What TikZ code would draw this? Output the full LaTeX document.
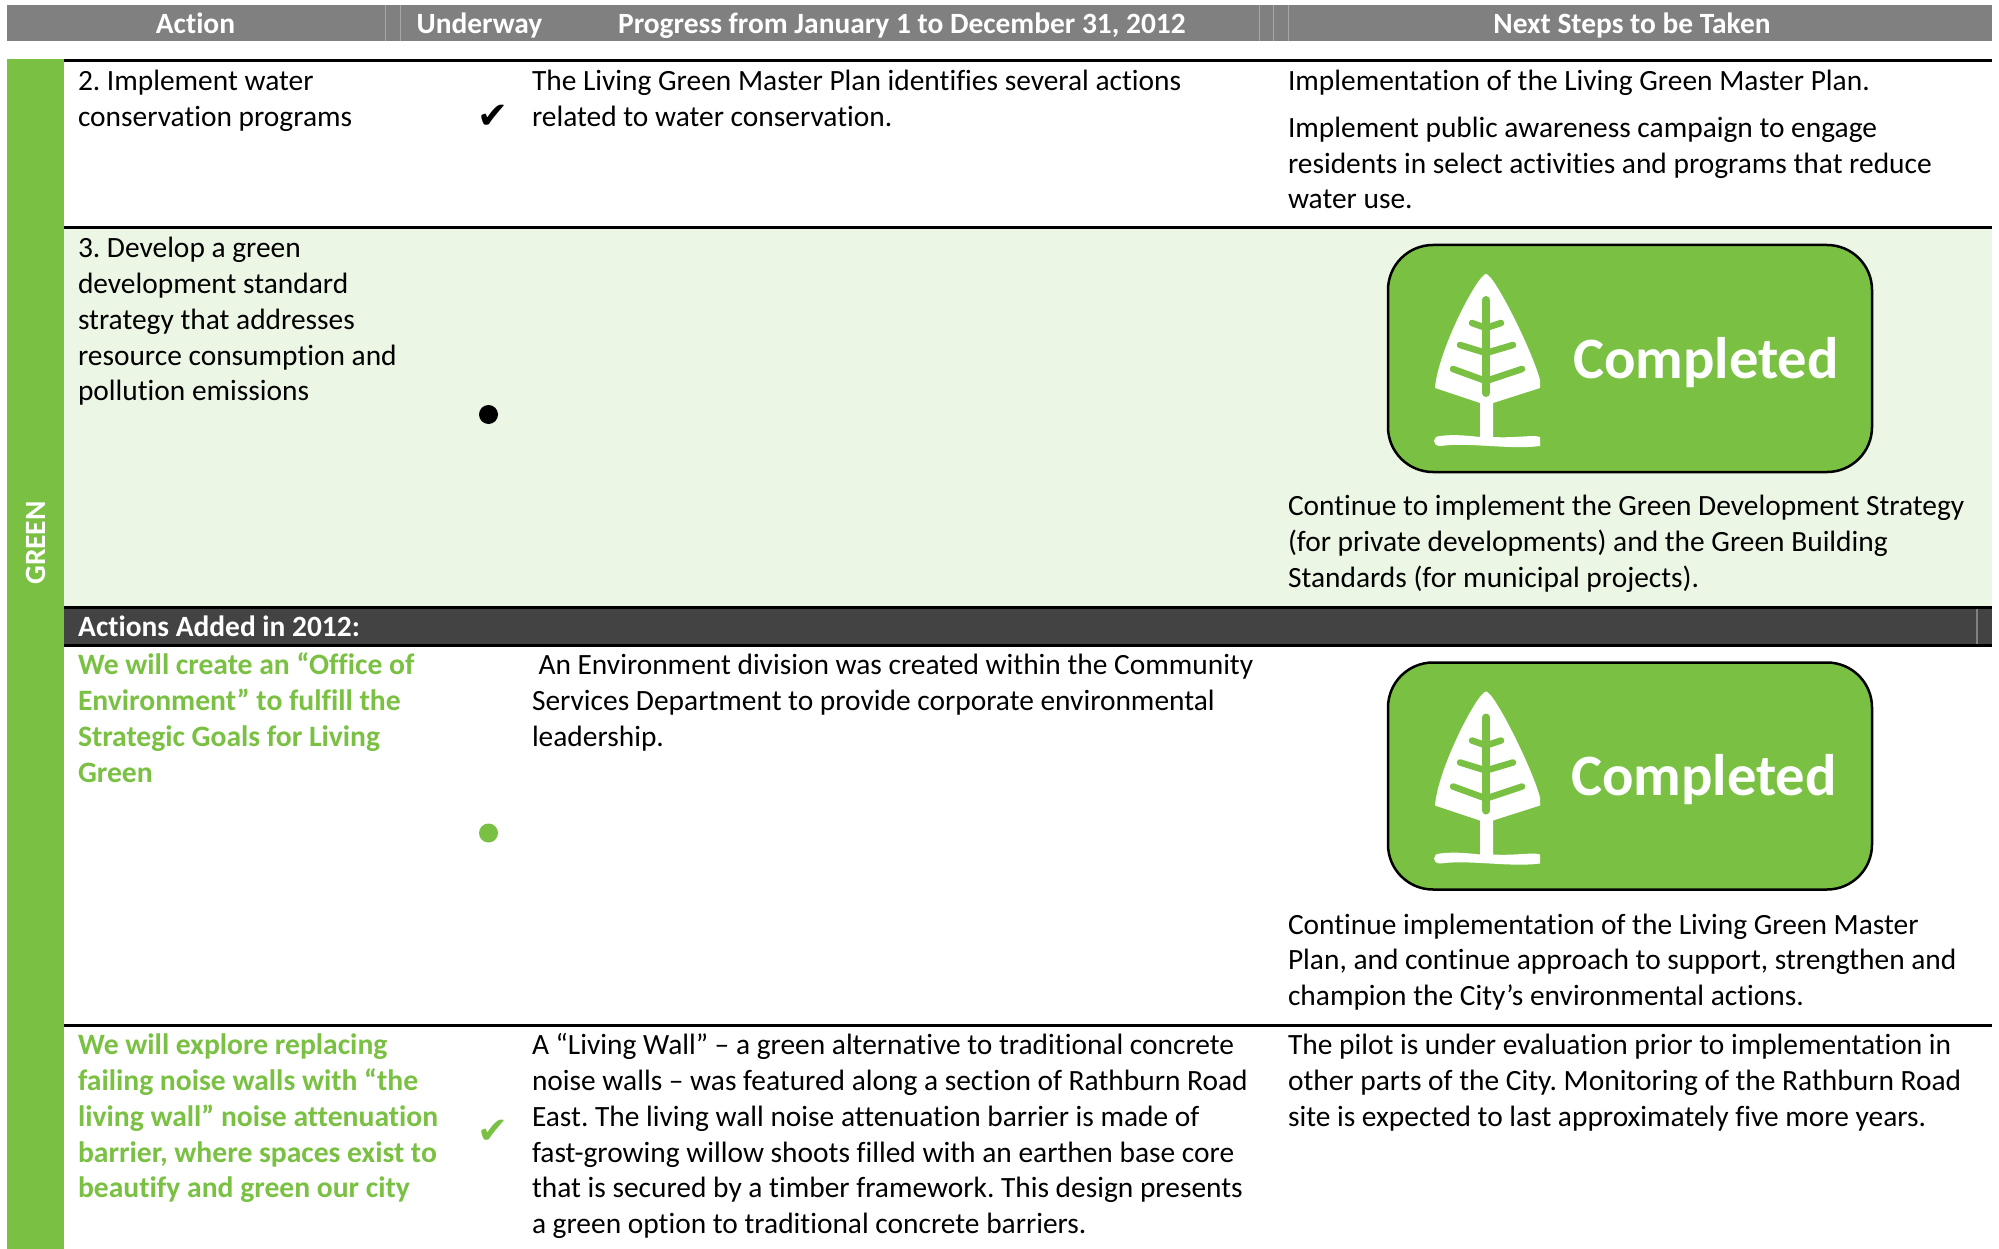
\documentclass[tikz,border=0pt]{standalone}
\usepackage{fontspec}
\setmainfont{Carlito}[Ligatures=NoCommon]
\newfontfamily\symfont{DejaVu Sans}
\definecolor{lggreen}{HTML}{7AC143}
\definecolor{lglight}{HTML}{EBF6E5}
\definecolor{lgdark}{HTML}{434343}
\definecolor{lggray}{HTML}{808080}
\newcommand{\bodyfont}{\fontsize{29.42}{35.9}\selectfont}
\newcommand{\boldfont}{\fontsize{29.62}{35.9}\selectfont\bfseries}
\newcommand{\headfont}{\fontsize{29.42}{35.9}\selectfont\bfseries}
% a paragraph placed by its first baseline
\newcommand{\para}[5][]{\node[para,#1] (#2) at (#3,#4-22) {\rule{0pt}{22pt}#5};}
\newcommand{\treeicon}[1]{%
  \begin{scope}[shift={(1360,#1)}]
    \fill[white] (126,54) .. controls (134,54) and (172,130) .. (180,160) -- (180,168) -- (133,183) -- (133,217)
      .. controls (150,218) and (165,216) .. (175,216) -- (180,217) -- (180,226)
      .. controls (150,230) and (110,222) .. (80,226) .. controls (72,226) and (72,216) .. (80,216)
      .. controls (95,214) and (110,216) .. (120,217) -- (120,183) -- (75,168)
      .. controls (78,130) and (118,54) .. (126,54) -- cycle;
    \draw[lggreen,line width=8pt,line cap=round,line join=round] (126,80) -- (126,173);
    \draw[lggreen,line width=6.5pt,line cap=round,line join=round] (112,103) -- (126,108) -- (141,103);
    \draw[lggreen,line width=6.5pt,line cap=round,line join=round] (100,125) -- (126,133) -- (153,125);
    \draw[lggreen,line width=6.5pt,line cap=round,line join=round] (93,149) -- (126,161) -- (162,149);
  \end{scope}}
\tikzset{
  para/.style={anchor=north west,inner sep=0pt,outer sep=0pt,align=left,font=\bodyfont},
  greenbold/.style={text=lggreen,font=\boldfont},
  headtext/.style={anchor=base,inner sep=0pt,text=white,font=\headfont},
  rule/.style={line width=3pt,black},
  badge/.style={draw=black,line width=2.5pt,fill=lggreen,rounded corners=45pt,minimum width=484pt,minimum height=227pt,inner sep=0pt},
  badgetext/.style={anchor=base,inner sep=0pt,text=white,font=\fontsize{58.6}{60}\selectfont\bfseries},
  dot/.style={circle,minimum size=19pt,inner sep=0pt},
  tick/.style={inner sep=0pt,font=\fontsize{37}{37}\symfont}
}
\begin{document}
\frenchspacing
\begin{tikzpicture}[x=1pt,y=-1pt]
\useasboundingbox (0,0) rectangle (1999,1249);
\fill[white] (0,0) rectangle (1999,1249);
% header
\fill[lggray] (7,5) rectangle (1992,41);
\foreach \xx in {385,400,1259,1273,1288} \draw[white,opacity=.3,line width=.8pt] (\xx,5) -- (\xx,41);
\node[headtext] (hAction) at (195.5,33.5) {Action};
\node[headtext] (hUnder) at (479.5,33.5) {Underway};
\node[headtext] (hProg) at (902,33.5) {Progress from January 1 to December 31, 2012};
\node[headtext] (hNext) at (1632,33.5) {Next Steps to be Taken};
% bands
\fill[lggreen] (7,59) rectangle (63.5,1249);
\fill[lglight] (63.5,228) rectangle (1992,607);
\fill[lgdark] (63.5,607) rectangle (1992,645);
\draw[gray,line width=1.2pt] (1977,609) -- (1977,644);
\draw[rule] (63.5,60.5) -- (1992,60.5);
\draw[rule] (63.5,227.5) -- (1992,227.5);
\draw[rule] (63.5,607.5) -- (1992,607.5);
\draw[rule] (63.5,645.5) -- (1992,645.5);
\draw[rule] (63.5,1025) -- (1992,1025);
\node[rotate=90,inner sep=0pt,text=white,font=\headfont] (lGreen) at (36,543) {GREEN};
% row 2
\para{aTwo}{78}{90.3}{2. Implement water\\conservation programs}
\node[tick] (tickTwo) at (492.5,117) {\symbol{"2714}};
\para{pTwo}{532}{90.3}{The Living Green Master Plan identifies several actions\\related to water conservation.}
\para{nTwoA}{1288}{90.3}{Implementation of the Living Green Master Plan.}
\para{nTwoB}{1288}{137.2}{Implement public awareness campaign to engage\\residents in select activities and programs that reduce\\water use.}
% row 3
\para{aThree}{78}{257.3}{3. Develop a green\\development standard\\strategy that addresses\\resource consumption and\\pollution emissions}
\node[dot,fill=black] (dotThree) at (488.5,414.5) {};
\node[badge] (badgeA) at (1630,358.5) {};
\treeicon{220}
\node[badgetext] (compA) at (1706,378) {Completed};
\para{nThree}{1288}{515.7}{Continue to implement the Green Development Strategy\\(for private developments) and the Green Building\\Standards (for municipal projects).}
% added
\node[anchor=base west,inner sep=0pt,text=white,font=\headfont] (added) at (78,636.3) {Actions Added in 2012:};
\para[greenbold]{aFour}{78}{674.3}{We will create an “Office of\\Environment” to fulfill the\\Strategic Goals for Living\\Green}
\node[dot,fill=lggreen] (dotFour) at (488.5,833) {};
\para{pFour}{532}{674.3}{\hspace{6.5pt}An Environment division was created within the Community\\Services Department to provide corporate environmental\\leadership.}
\node[badge] (badgeB) at (1630,776) {};
\treeicon{637.5}
\node[badgetext] (compB) at (1704,795.5) {Completed};
\para{nFour}{1288}{934}{Continue implementation of the Living Green Master\\Plan, and continue approach to support, strengthen and\\champion the City’s environmental actions.}
% last row
\para[greenbold]{aFive}{78}{1054.3}{We will explore replacing\\failing noise walls with “the\\living wall” noise attenuation\\barrier, where spaces exist to\\beautify and green our city}
\node[tick,text=lggreen] (tickFive) at (492.5,1132) {\symbol{"2714}};
\para{pFive}{532}{1054.3}{A “Living Wall” – a green alternative to traditional concrete\\noise walls – was featured along a section of Rathburn Road\\East. The living wall noise attenuation barrier is made of\\fast-growing willow shoots filled with an earthen base core\\that is secured by a timber framework. This design presents\\a green option to traditional concrete barriers.}
\para{nFive}{1288}{1054.3}{The pilot is under evaluation prior to implementation in\\other parts of the City. Monitoring of the Rathburn Road\\site is expected to last approximately five more years.}
\end{tikzpicture}
\end{document}
